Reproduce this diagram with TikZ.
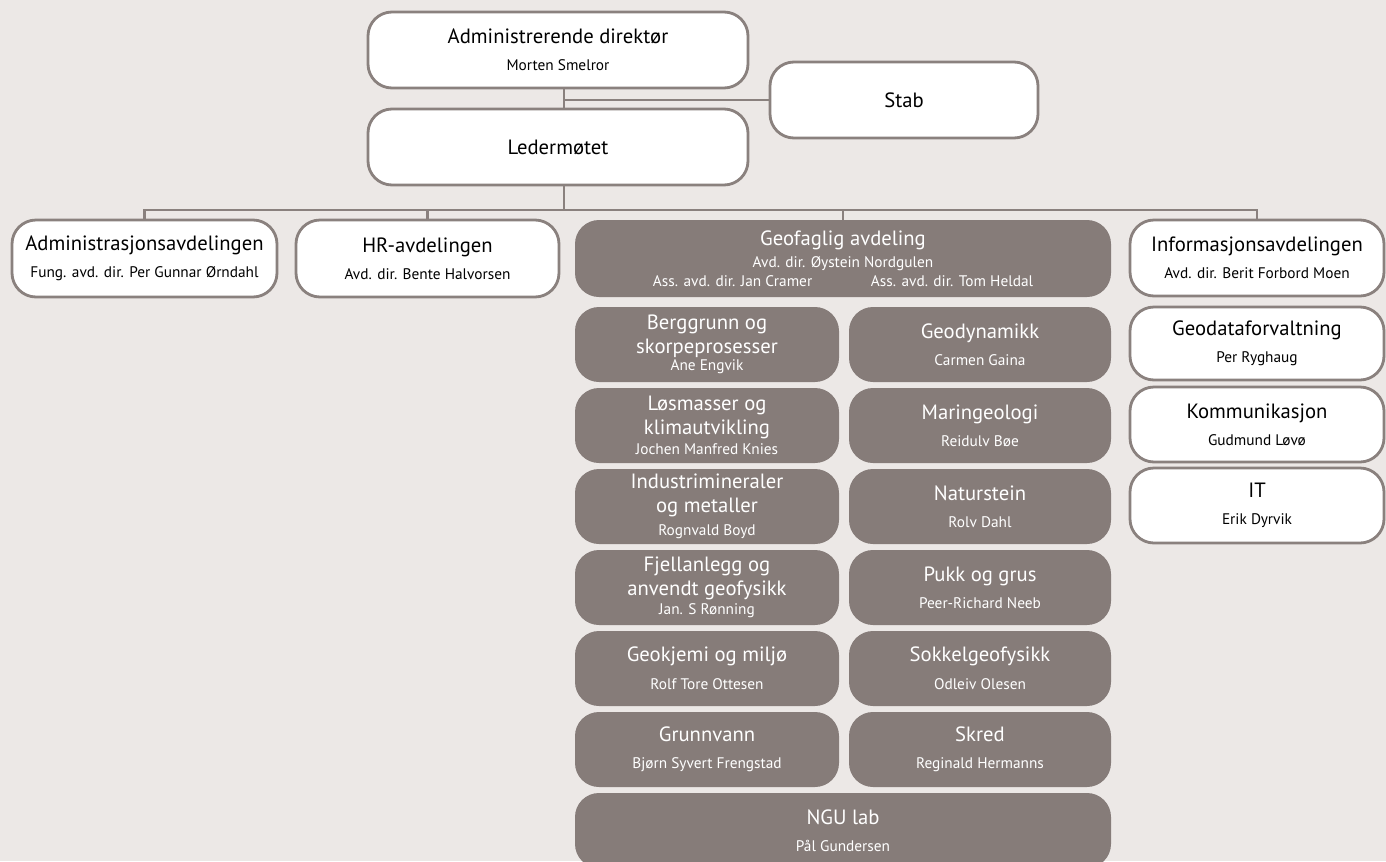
\documentclass[tikz,border=0pt]{standalone}
\usepackage{fontspec}
\setmainfont{PT Sans}
\usetikzlibrary{positioning}
\definecolor{paper}{RGB}{236,232,230}
\definecolor{taupe}{RGB}{134,124,121}
\definecolor{edge}{RGB}{138,129,126}
\newcommand{\who}[1]{{\fontsize{11.5}{13}\selectfont #1}}

\begin{document}
\begin{tikzpicture}[x=0.75pt, y=-0.75pt,
    font=\fontsize{15.5}{18}\selectfont,
    wbox/.style={draw=edge, line width=2.1pt, fill=white, rounded corners=18pt, align=center, inner sep=0pt},
    gbox/.style={fill=taupe, text=white, rounded corners=18pt, align=center, inner sep=0pt},
    size/.style 2 args={minimum width=#1*0.75pt, minimum height=#2*0.75pt},
    link/.style={draw=edge, line width=2pt}]
    \clip (0,0) rectangle (1386,861);
    \fill[paper] (0,0) rectangle (1386,861);

    % top
    \node[wbox, size={380}{76}] (adm) at (558,50) {Administrerende direktør\\[2pt]\who{Morten Smelror}};
    \node[wbox, size={268}{76}] (stab) at (904,100) {Stab};
    \node[wbox, size={380}{76}] (led) at (558,147) {Ledermøtet};

    % departments
    \node[wbox, size={265}{77}] (admin) at (144.5,258.5) {Administrasjonsavdelingen\\[2pt]\who{Fung. avd. dir. Per Gunnar Ørndahl}};
    \node[wbox, size={263}{77}] (hr) at (427.5,258.5) {HR-avdelingen\\[2pt]\who{Avd. dir. Bente Halvorsen}};
    \node[gbox, size={536}{77}] (geo) at (843,258.5) {Geofaglig avdeling\\[-1.5pt]\who{Avd. dir. Øystein Nordgulen}\\[-4pt]\who{Ass. avd. dir. Jan Cramer\hspace{44pt}Ass. avd. dir. Tom Heldal}};
    \node[wbox, size={254}{76}] (info) at (1257,258) {Informasjonsavdelingen\\[2pt]\who{Avd. dir. Berit Forbord Moen}};

    % informasjon
    \node[wbox, size={254}{73}] (geodata) at (1257,343.5) {Geodataforvaltning\\[2pt]\who{Per Ryghaug}};
    \node[wbox, size={254}{75}] (komm) at (1257,424.5) {Kommunikasjon\\[2pt]\who{Gudmund Løvø}};
    \node[wbox, size={254}{75}] (it) at (1257,505.5) {IT\\[2pt]\who{Erik Dyrvik}};

    % geofaglig sections
    \node[gbox, size={264}{75}] (berg) at (707,344.5) {Berggrunn og\\skorpeprosesser\\[-5pt]\who{Ane Engvik}};
    \node[gbox, size={262}{75}] (geodyn) at (980,344.5) {Geodynamikk\\[2pt]\who{Carmen Gaina}};
    \node[gbox, size={264}{75}] (los) at (707,425.5) {Løsmasser og\\klimautvikling\\[-3pt]\who{Jochen Manfred Knies}};
    \node[gbox, size={262}{75}] (marin) at (980,425.5) {Maringeologi\\[2pt]\who{Reidulv Bøe}};
    \node[gbox, size={264}{75}] (indu) at (707,506.5) {Industrimineraler\\og metaller\\[-1pt]\who{Rognvald Boyd}};
    \node[gbox, size={262}{75}] (natur) at (980,506.5) {Naturstein\\[2pt]\who{Rolv Dahl}};
    \node[gbox, size={264}{75}] (fjell) at (707,587.5) {Fjellanlegg og\\anvendt geofysikk\\[-4pt]\who{Jan. S Rønning}};
    \node[gbox, size={262}{75}] (pukk) at (980,587.5) {Pukk og grus\\[2pt]\who{Peer-Richard Neeb}};
    \node[gbox, size={264}{75}] (kjemi) at (707,668.5) {Geokjemi og miljø\\[3pt]\who{Rolf Tore Ottesen}};
    \node[gbox, size={262}{75}] (sokkel) at (980,668.5) {Sokkelgeofysikk\\[3pt]\who{Odleiv Olesen}};
    \node[gbox, size={264}{75}] (grunn) at (707,749.5) {Grunnvann\\[2pt]\who{Bjørn Syvert Frengstad}};
    \node[gbox, size={262}{75}] (skred) at (980,749.5) {Skred\\[2pt]\who{Reginald Hermanns}};
    \node[gbox, size={536}{75}] (lab) at (843,830.5) {NGU lab\\[2pt]\who{Pål Gundersen}};

    % connectors
    \coordinate (trunk) at (564,0);
    \coordinate (bus) at (564,210);
    \draw[link] (adm.south -| trunk) -- (led.north -| trunk);
    \draw[link] (stab.west) -- (stab.west -| trunk);
    \draw[link] (led.south -| trunk) -- (bus);
    \draw[link] (admin.north) -- (admin.north |- bus) -- (info.north |- bus) -- (info.north);
    \draw[link] (hr.north |- bus) -- (hr.north);
    \draw[link] (geo.north |- bus) -- (geo.north);
\end{tikzpicture}
\end{document}
